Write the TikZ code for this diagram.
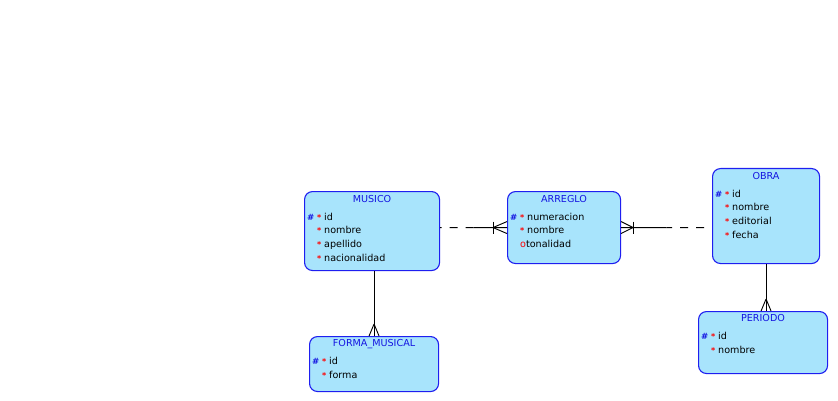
\documentclass[tikz,border=0pt]{standalone}
\usepackage{fontspec}
\setmainfont{DejaVu Sans}
\usetikzlibrary{calc}
\definecolor{entfill}{RGB}{168,228,252}
\definecolor{entline}{RGB}{30,30,240}
\definecolor{enttitle}{RGB}{20,20,225}
% attribute markers: primary key, mandatory, optional
\newcommand\erpk{\makebox[10pt][l]{\textcolor{enttitle}{\fontsize{8.6}{9}\selectfont\bfseries\#}}}
\newcommand\ernopk{\hspace*{10pt}}
\newcommand\ermand{\makebox[7pt][l]{\textcolor{red}{\fontsize{8}{9}\selectfont\bfseries *}}}
\newcommand\eropt{\textcolor{red}{o}}
\begin{document}
\begin{tikzpicture}[x=1pt,y=-1pt,font=\fontsize{9.6}{11}\selectfont,
  entity/.style={draw=entline,fill=entfill,line width=1.1pt,rounded corners=8pt,
                 anchor=north west,inner sep=0pt},
  etitle/.style={anchor=base,text=enttitle,inner sep=0pt},
  attr/.style={anchor=base west,inner sep=0pt},
  rel/.style={line width=0.9pt,black},
  optional/.style={rel,dash pattern=on 8pt off 8pt}]
\useasboundingbox (0,0) rectangle (838,401);

% entities
\node[entity,minimum width=135pt,minimum height=79pt] (musico)  at (304,191) {};
\node[entity,minimum width=113pt,minimum height=72pt] (arreglo) at (507,191) {};
\node[entity,minimum width=107pt,minimum height=95pt] (obra)    at (712,168) {};
\node[entity,minimum width=129pt,minimum height=55pt] (forma)   at (309,336) {};
\node[entity,minimum width=129pt,minimum height=62pt] (periodo) at (698,311) {};

% MUSICO
\node[etitle] (musico-t) at ($(musico.north)+(0,11)$) {MUSICO};
\node[attr] (musico-a1) at ($(musico.north west)+(3,29)$)    {\erpk\ermand id};
\node[attr] (musico-a2) at ($(musico.north west)+(3,42.7)$)  {\ernopk\ermand nombre};
\node[attr] (musico-a3) at ($(musico.north west)+(3,56.4)$)  {\ernopk\ermand apellido};
\node[attr] (musico-a4) at ($(musico.north west)+(3,70.1)$)  {\ernopk\ermand nacionalidad};

% ARREGLO
\node[etitle] (arreglo-t) at ($(arreglo.north)+(0,11)$) {ARREGLO};
\node[attr] (arreglo-a1) at ($(arreglo.north west)+(3,29)$)   {\erpk\ermand numeracion};
\node[attr] (arreglo-a2) at ($(arreglo.north west)+(3,42.7)$) {\ernopk\ermand nombre};
\node[attr] (arreglo-a3) at ($(arreglo.north west)+(3,56.4)$) {\ernopk\eropt tonalidad};

% OBRA
\node[etitle] (obra-t) at ($(obra.north)+(0,11)$) {OBRA};
\node[attr] (obra-a1) at ($(obra.north west)+(3,29)$)   {\erpk\ermand id};
\node[attr] (obra-a2) at ($(obra.north west)+(3,42.7)$) {\ernopk\ermand nombre};
\node[attr] (obra-a3) at ($(obra.north west)+(3,56.4)$) {\ernopk\ermand editorial};
\node[attr] (obra-a4) at ($(obra.north west)+(3,70.1)$) {\ernopk\ermand fecha};

% FORMA_MUSICAL
\node[etitle] (forma-t) at ($(forma.north)+(0,10.5)$) {FORMA\_MUSICAL};
\node[attr] (forma-a1) at ($(forma.north west)+(3,28.5)$)  {\erpk\ermand id};
\node[attr] (forma-a2) at ($(forma.north west)+(3,42.2)$)  {\ernopk\ermand forma};

% PERIODO
\node[etitle] (periodo-t) at ($(periodo.north)+(0,10.5)$) {PERIODO};
\node[attr] (periodo-a1) at ($(periodo.north west)+(3,28.5)$) {\erpk\ermand id};
\node[attr] (periodo-a2) at ($(periodo.north west)+(3,42.2)$) {\ernopk\ermand nombre};

% MUSICO -- ARREGLO (optional side dashed, crow's foot with bar at ARREGLO)
\coordinate (r1a) at (musico.east |- arreglo.west);
\coordinate (r1m) at ($(r1a)!0.5!(arreglo.west)$);
\draw[optional] (r1m) -- (r1a);
\draw[rel] (r1m) -- (arreglo.west);
\draw[rel] ($(arreglo.west)+(-14,0)$) -- ($(arreglo.west)+(0,-6)$)
           ($(arreglo.west)+(-14,0)$) -- ($(arreglo.west)+(0,6)$);
\draw[rel] ($(arreglo.west)+(-14,-6)$) -- ($(arreglo.west)+(-14,6)$);

% ARREGLO -- OBRA
\coordinate (r2a) at (obra.west |- arreglo.east);
\coordinate (r2m) at ($(arreglo.east)!0.5!(r2a)$);
\draw[rel] (arreglo.east) -- (r2m);
\draw[optional,dash phase=8pt] (r2a) -- (r2m);
\draw[rel] ($(arreglo.east)+(12,0)$) -- ($(arreglo.east)+(0,-6)$)
           ($(arreglo.east)+(12,0)$) -- ($(arreglo.east)+(0,6)$);
\draw[rel] ($(arreglo.east)+(12,-6)$) -- ($(arreglo.east)+(12,6)$);

% MUSICO -- FORMA_MUSICAL
\coordinate (r3a) at (forma.north |- musico.south);
\draw[rel] (r3a) -- (forma.north);
\draw[rel] ($(forma.north)+(0,-12)$) -- ($(forma.north)+(-5,0)$)
           ($(forma.north)+(0,-12)$) -- ($(forma.north)+(5,0)$);

% OBRA -- PERIODO
\coordinate (r4a) at (obra.south |- periodo.north);
\draw[rel] (obra.south) -- (r4a);
\draw[rel] ($(r4a)+(0,-12)$) -- ($(r4a)+(-5,0)$)
           ($(r4a)+(0,-12)$) -- ($(r4a)+(5,0)$);
\end{tikzpicture}
\end{document}
